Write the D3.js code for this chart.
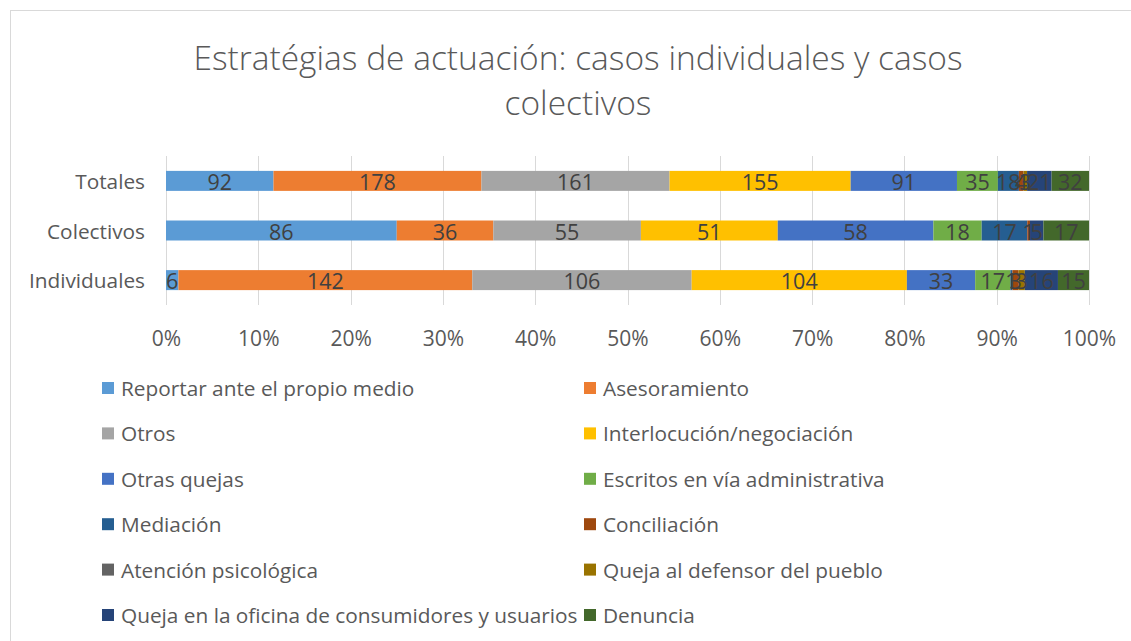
<!DOCTYPE html>
<html>
<head>
<meta charset="utf-8">
<script src="https://cdn.jsdelivr.net/npm/d3@7"></script>
<style>
  body { margin: 0; background: #fff; }
  svg { display: block; font-family: "Open Sans", sans-serif; }
</style>
</head>
<body>
<div id="chart"></div>
<script>
// categories (top to bottom) and series
var categories = ["Totales", "Colectivos", "Individuales"];
var seriesNames = ["Reportar ante el propio medio", "Asesoramiento", "Otros",
  "Interlocución/negociación", "Otras quejas", "Escritos en vía administrativa",
  "Mediación", "Conciliación", "Atención psicológica", "Queja al defensor del pueblo",
  "Queja en la oficina de consumidores y usuarios", "Denuncia"];
var seriesColors = ["#5B9BD5", "#ED7D31", "#A5A5A5", "#FFC000", "#4472C4", "#70AD47",
  "#255E91", "#9E480E", "#636363", "#997300", "#264478", "#43682B"];
var totales      = [92, 178, 161, 155, 91, 35, 18, 4, 0, 3, 21, 32];
var colectivos   = [86, 36, 55, 51, 58, 18, 17, 1, 0, 0, 5, 17];
var individuales = [6, 142, 106, 104, 33, 17, 1, 3, 0, 3, 16, 15];
var tickValues = [0, .1, .2, .3, .4, .5, .6, .7, .8, .9, 1];

var rows = [totales, colectivos, individuales];
var data = categories.map(function (c, i) {
  var sum = d3.sum(rows[i]), acc = 0;
  return rows[i].map(function (v, j) {
    var d = {cat: c, s: j, v: v, x0: acc / sum, x1: (acc + v) / sum};
    acc += v;
    return d;
  });
});

var W = 1131, H = 641;
var svg = d3.select("#chart").append("svg").attr("width", W).attr("height", H);

// chart frame
svg.append("rect").attr("x", 10.5).attr("y", 10.5).attr("width", 1140).attr("height", 700)
  .attr("fill", "#fff").attr("stroke", "#d9d9d9").attr("stroke-width", 1);

// title
var title = svg.append("text").attr("text-anchor", "middle").attr("fill", "#595959")
  .style("font-size", "33.5px").style("font-weight", 300);
title.append("tspan").attr("x", 578).attr("y", 70).text("Estratégias de actuación: casos individuales y casos");
title.append("tspan").attr("x", 578).attr("y", 115).text("colectivos");

var x = d3.scaleLinear().domain([0, 1]).range([166, 1089]);
var y = d3.scaleBand().domain(categories).range([156, 305]).paddingInner(0.597).paddingOuter(0.3);

// gridlines
svg.append("g").selectAll("line").data(tickValues).enter().append("line")
  .attr("x1", function (d) { return Math.round(x(d)) + 0.5; })
  .attr("x2", function (d) { return Math.round(x(d)) + 0.5; })
  .attr("y1", 156).attr("y2", 305)
  .attr("stroke", "#d9d9d9").attr("stroke-width", 1);

// bars
var groups = svg.append("g").selectAll("g").data(data).enter().append("g");
groups.selectAll("rect").data(function (d) { return d; }).enter().append("rect")
  .attr("x", function (d) { return x(d.x0); })
  .attr("width", function (d) { return x(d.x1) - x(d.x0); })
  .attr("y", function (d) { return y(d.cat); })
  .attr("height", y.bandwidth())
  .attr("fill", function (d) { return seriesColors[d.s]; });

// data labels
groups.selectAll("text").data(function (d) { return d.filter(function (e) { return e.v > 0; }); })
  .enter().append("text")
  .attr("x", function (d) { return (x(d.x0) + x(d.x1)) / 2; })
  .attr("y", function (d) { return y(d.cat) + y.bandwidth() / 2; })
  .attr("dy", "0.42em")
  .attr("text-anchor", "middle")
  .attr("fill", "#404040")
  .style("font-size", "21.5px")
  .text(function (d) { return d.v; });

// x axis labels
var xAxis = svg.append("g").attr("transform", "translate(0,338)")
  .call(d3.axisBottom(x).tickValues(tickValues).tickFormat(d3.format(".0%")).tickSize(0).tickPadding(0));
xAxis.select(".domain").remove();
xAxis.selectAll("text").attr("fill", "#595959").attr("dy", "0.36em")
  .style("font-size", "21px").style("font-family", "'Open Sans', sans-serif");

// category labels
var yAxis = svg.append("g").attr("transform", "translate(145,0)")
  .call(d3.axisLeft(y).tickSize(0).tickPadding(0));
yAxis.select(".domain").remove();
yAxis.selectAll("text").attr("fill", "#595959").attr("dy", "0.4em")
  .style("font-size", "20.8px").style("font-family", "'Open Sans', sans-serif");

// legend
var legend = svg.append("g").selectAll("g").data(seriesNames).enter().append("g")
  .attr("transform", function (d, i) {
    return "translate(" + (i % 2 === 0 ? 102 : 584) + "," + (388 + Math.floor(i / 2) * 45.4) + ")";
  });
legend.append("rect").attr("x", 0).attr("y", -6).attr("width", 12).attr("height", 12)
  .attr("fill", function (d, i) { return seriesColors[i]; });
legend.append("text").attr("x", 19).attr("dy", "0.38em").attr("fill", "#595959")
  .style("font-size", "20.8px").text(function (d) { return d; });
</script>
</body>
</html>
